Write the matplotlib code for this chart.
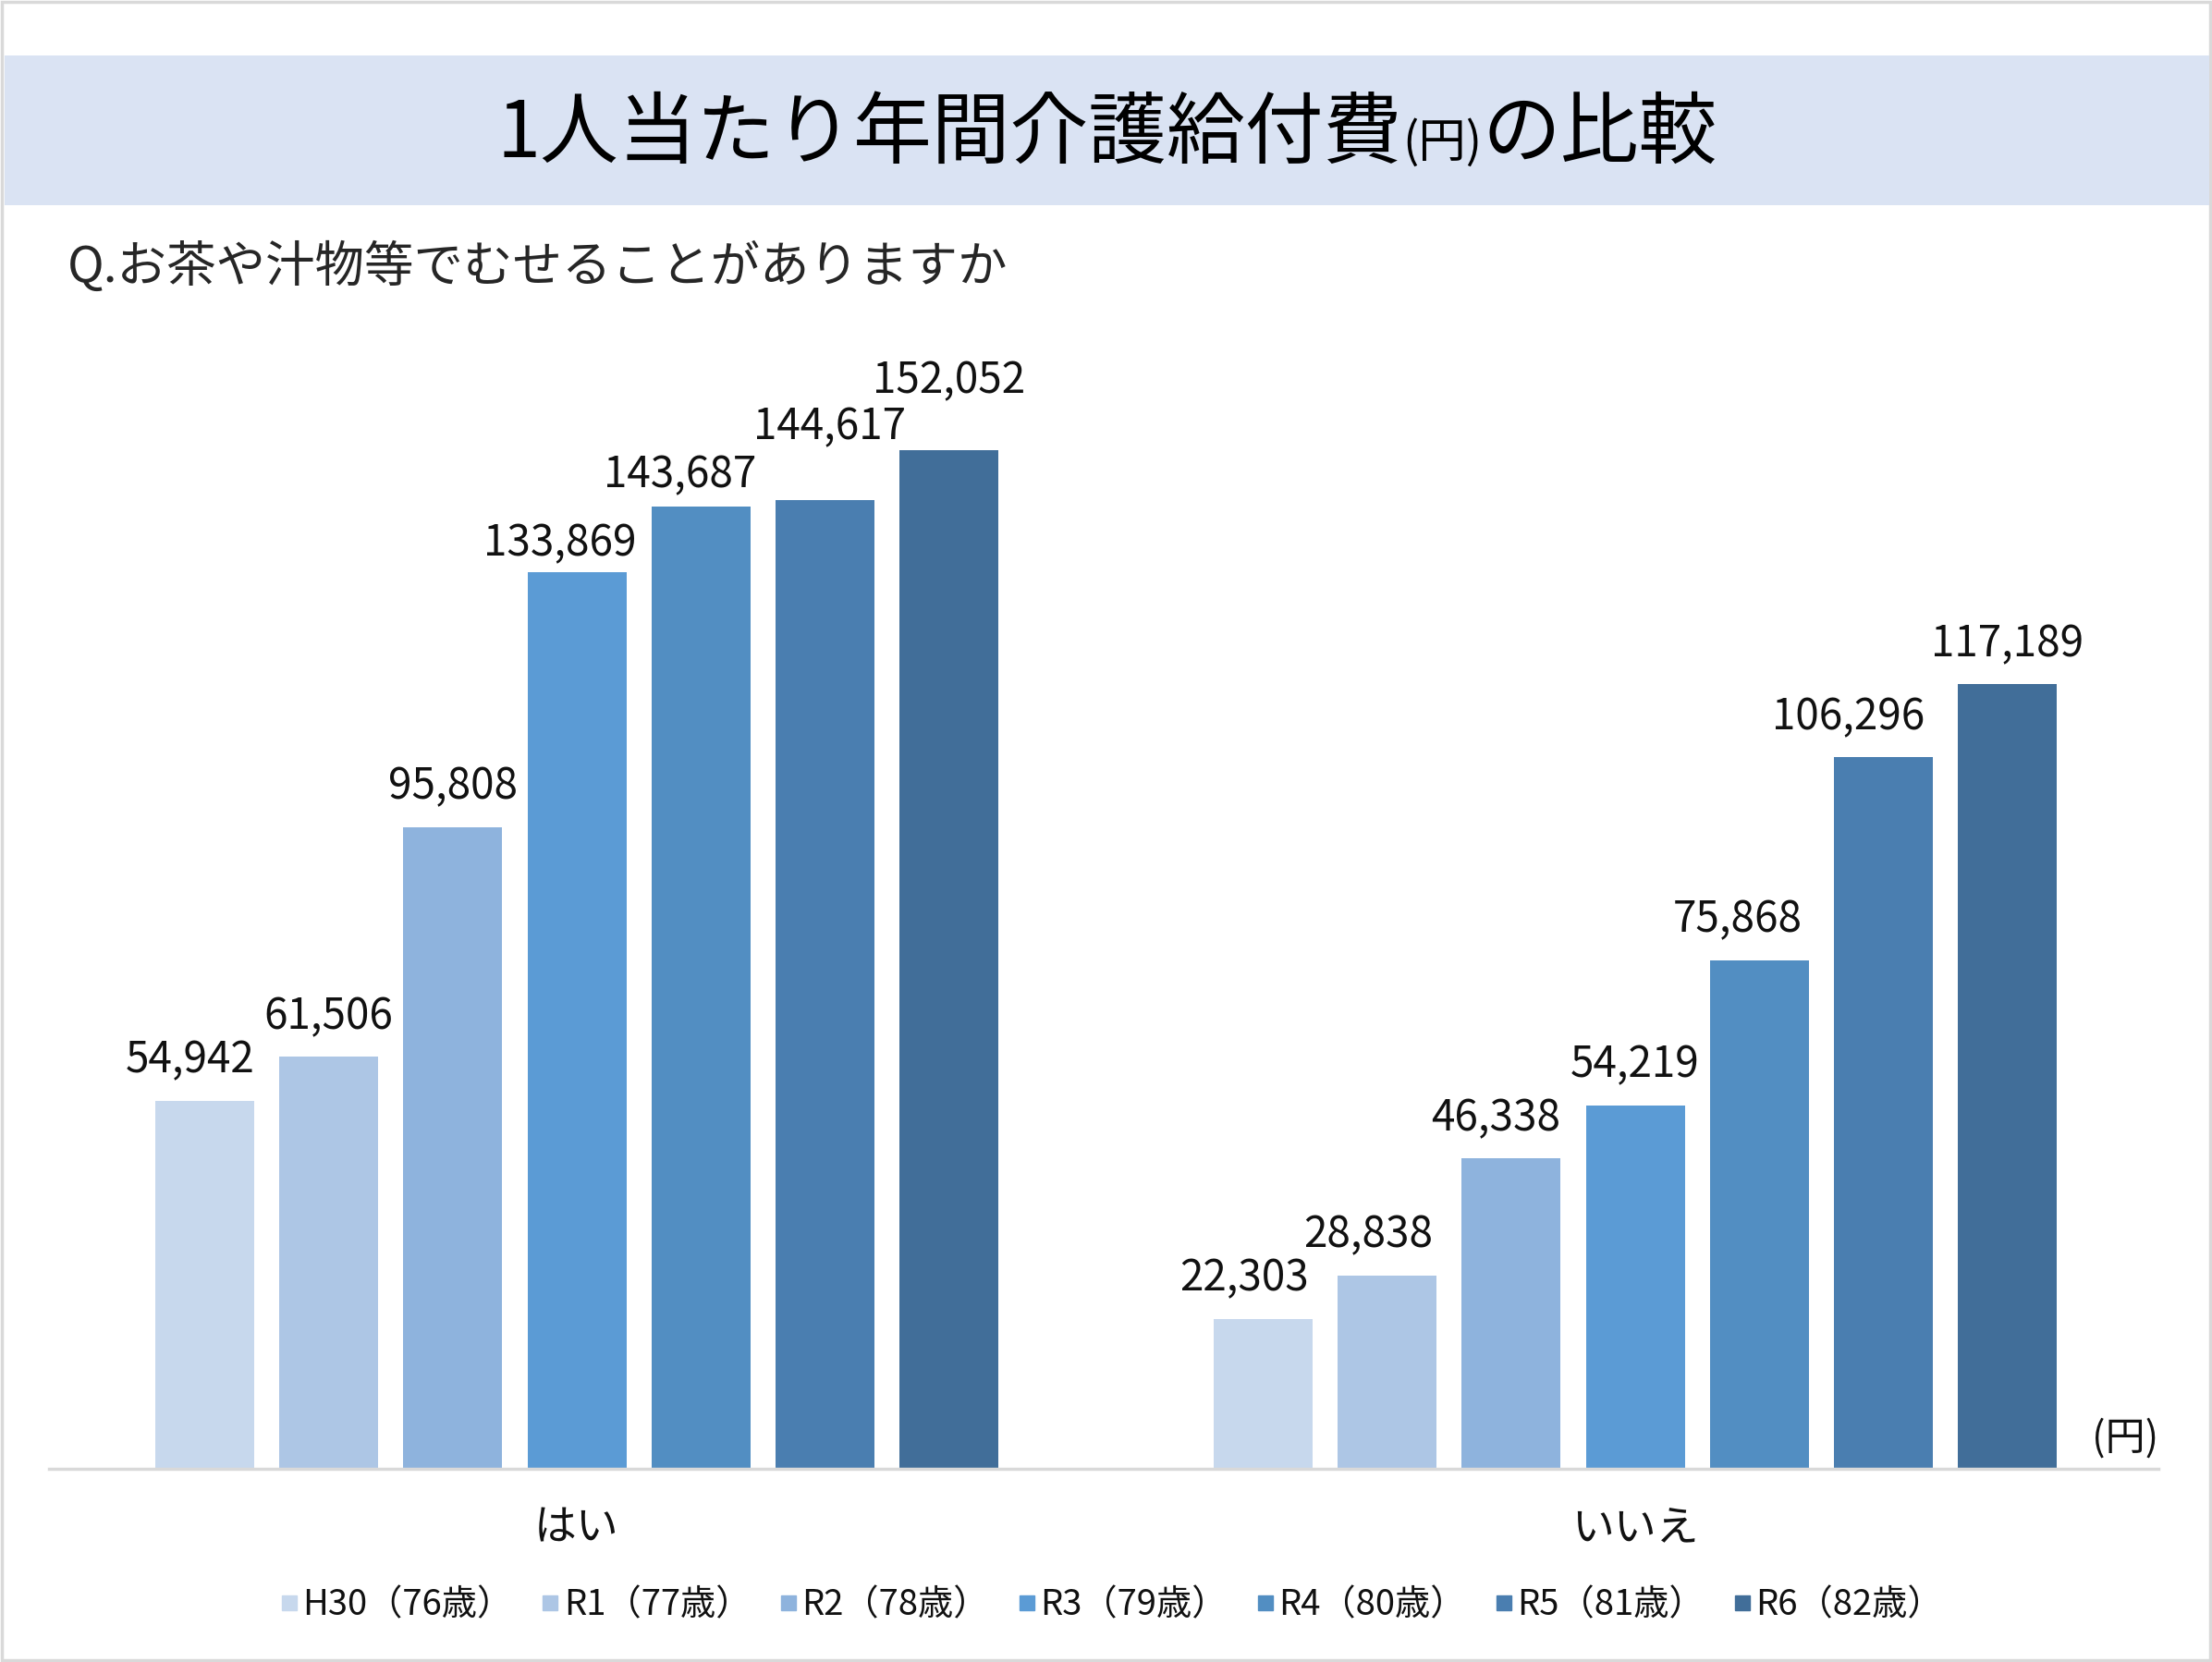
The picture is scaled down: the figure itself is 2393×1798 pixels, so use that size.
import matplotlib
matplotlib.use("Agg")
import matplotlib.pyplot as plt
from matplotlib.patches import Rectangle
from matplotlib.lines import Line2D

plt.rcParams['font.family'] = ['Noto Sans CJK JP', 'DejaVu Sans']

# ---------------- data ----------------
categories = ["はい", "いいえ"]
series_labels = ["H30（76歳）", "R1（77歳）", "R2（78歳）", "R3（79歳）",
                 "R4（80歳）", "R5（81歳）", "R6（82歳）"]
values_yes = [54942, 61506, 95808, 133869, 143687, 144617, 152052]
values_no = [22303, 28838, 46338, 54219, 75868, 106296, 117189]

title_main = "1人当たり年間介護給付費"
title_unit = "(円)"
title_tail = "の比較"
subtitle = "Q.お茶や汁物等でむせることがありますか"
unit_label = "(円)"

# ---------------- style ----------------
colors = ["#C7D8ED", "#ADC6E5", "#8EB3DD", "#5B9BD5", "#528EC2", "#4A7EB0", "#416E99"]
# label offsets (pixels) relative to bar top-centre, as placed in the reference
label_off_yes = [(-15, 44), (0, 43), (0, 44), (-18, 31), (-23, 34), (5, 79), (0, 75)]
label_off_no = [(-20, 44), (-20, 44), (-17, 43), (0, 44), (-24, 44), (-38, 43), (0, 43)]

W, H = 2393, 1798
DPI = 100
fig = plt.figure(figsize=(W / DPI, H / DPI), dpi=DPI)
fig.patch.set_facecolor("white")

# outer border
fig.patches.append(Rectangle((0.0008, 0.001), 0.9984, 0.998, transform=fig.transFigure,
                             fill=False, edgecolor="#D9D9D9", linewidth=2.5, zorder=0))
# title band
band_top, band_bot = 60, 222
fig.patches.append(Rectangle((5 / W, 1 - band_bot / H), (W - 8) / W, (band_bot - band_top) / H,
                             transform=fig.transFigure, facecolor="#DAE3F3",
                             edgecolor="none", zorder=0))

# ---------------- axes ----------------
ax_left, ax_right = 53, 2335
ax_base, ax_top = 1589, 400
ax = fig.add_axes([ax_left / W, 1 - ax_base / H, (ax_right - ax_left) / W, (ax_base - ax_top) / H])
ax.set_facecolor("none")

group_px = 1145.0
pitch = 134.3 / group_px
width = 107.0 / group_px
n = len(series_labels)
xs = [0, 1]

top_px_ref = 487
ymax = max(values_yes) * (ax_base - ax_top) / (ax_base - top_px_ref)
ax.set_ylim(0, ymax)
ax.set_xlim((ax_left - 624) / group_px, (ax_right - 624) / group_px)

for i in range(n):
    pos = [x + (i - (n - 1) / 2) * pitch for x in xs]
    vals = [values_yes[i], values_no[i]]
    ax.bar(pos, vals, width=width, color=colors[i], label=series_labels[i], zorder=2)
    for p, v, off in zip(pos, vals, [label_off_yes[i], label_off_no[i]]):
        ax.annotate(f"{v:,}", xy=(p, v), xytext=off, textcoords="offset pixels",
                    ha="center", va="center", fontsize=33, color="#111111")

for s in ["top", "right", "left"]:
    ax.spines[s].set_visible(False)
ax.spines["bottom"].set_color("#D9D9D9")
ax.spines["bottom"].set_linewidth(2.5)
ax.set_yticks([])
ax.set_xticks(xs)
ax.set_xticklabels(categories, fontsize=33, color="#111111")
ax.tick_params(axis="x", length=0, pad=29)

# unit label
fig.text(ax_right / W, 1 - 1557 / H, unit_label, ha="right", va="center",
         fontsize=31, color="#111111")

# subtitle
fig.text(73 / W, 1 - 289 / H, subtitle, ha="left", va="center", fontsize=38.5, color="#262626")

# title composed of pieces
fig.canvas.draw()
r = fig.canvas.get_renderer()
baseline = 1 - 170 / H
pieces = [(title_main, 61), (title_unit, 37), (title_tail, 61)]
texts = []
for s, fs in pieces:
    t = fig.text(0, baseline, s, ha="left", va="baseline", fontsize=fs, color="#000000")
    texts.append(t)
widths = [t.get_window_extent(r).width for t in texts]
total = sum(widths)
x0 = (W / 2 + 1) - total / 2
for t, w in zip(texts, widths):
    t.set_x(x0 / W)
    x0 += w

# legend
handles = [Line2D([], [], marker="s", linestyle="none", markersize=11,
                  markerfacecolor=c, markeredgecolor=c) for c in colors]
fig.legend(handles, series_labels, loc="center", bbox_to_anchor=(1203 / W, 1 - 1737 / H),
           ncol=n, frameon=False, fontsize=27.5, handlelength=0.45, handletextpad=0.15,
           columnspacing=0.85, labelcolor="#111111")

fig.savefig("out.png", dpi=DPI, facecolor="white")
